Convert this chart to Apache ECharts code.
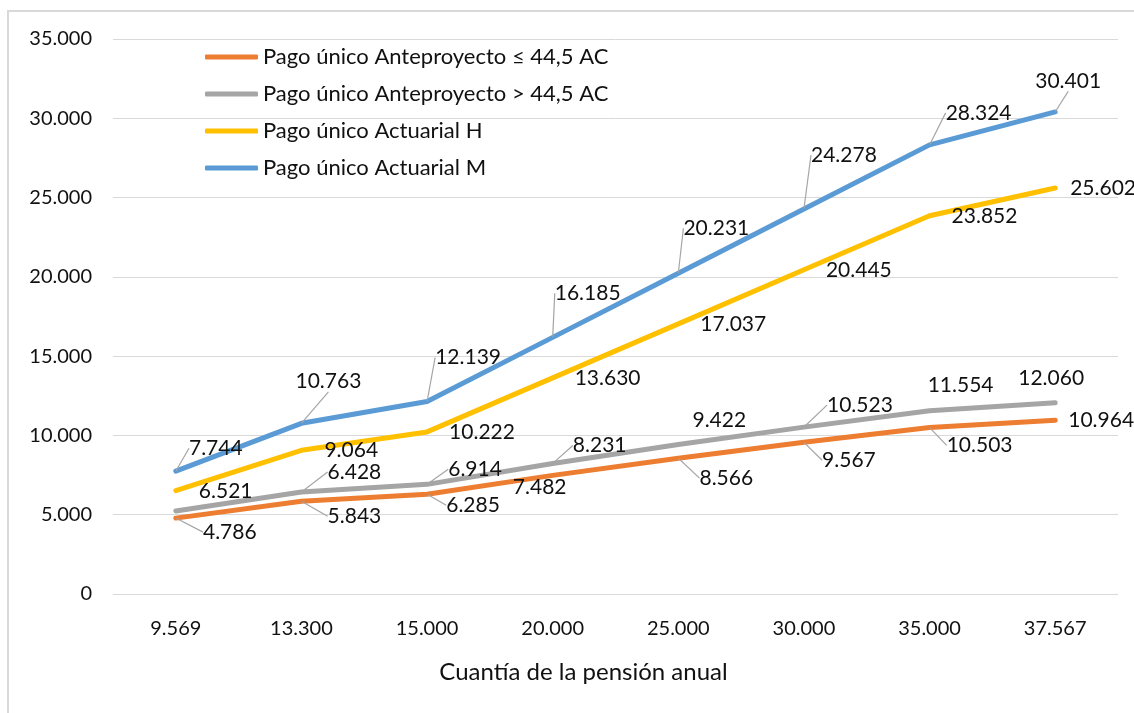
<!DOCTYPE html>
<html><head><meta charset="utf-8">
<script src="https://cdn.jsdelivr.net/npm/echarts@6/dist/echarts.min.js"></script>
<style>
html,body{margin:0;padding:0;background:#fff}
#wrap{position:relative;width:1134px;height:713px;overflow:hidden}
#c{width:1134px;height:713px}
#frame{position:absolute;left:7px;top:10px;width:1200px;height:800px;border-left:2px solid #D9D9D9;border-top:2px solid #D9D9D9;pointer-events:none}
</style>
</head><body><div id="wrap"><div id="c"></div><div id="frame"></div></div>
<script>
// ---- data ----
const categories = ['9.569','13.300','15.000','20.000','25.000','30.000','35.000','37.567'];
const seriesNames = ['Pago único Anteproyecto ≤ 44,5 AC','Pago único Anteproyecto > 44,5 AC','Pago único Actuarial H','Pago único Actuarial M'];
const anteMenor = [4786,5843,6285,7482,8566,9567,10503,10964];
const anteMayor = [5236,6428,6914,8231,9422,10523,11554,12060];
const actuarialH = [6521,9064,10222,13630,17037,20445,23852,25602];
const actuarialM = [7744,10763,12139,16185,20231,24278,28324,30401];
const yMax = 35000, yStep = 5000;

// ---- label placement (style only) ----
const colors = ['#ED7D31','#A5A5A5','#FFC000','#5B9BD5'];
// [dx, dy] of label centre from the point (yellow: dx is gap to label's left edge)
const offsets = [
  [[54,14],[53,15],[46,11],[-13,12],[48,20],[45,18],[50,18],[46,0]],
  [[0,0],[53,-20],[48,-15],[47,-18],[41,-24],[56,-22],[31,-26],[-4,-25]],
  [[23,1],[23,0],[22,0],[22,0],[22,0],[22,0],[22,0],[15,0]],
  [[40,-23],[27,-42],[41,-44],[35,-44],[38,-45],[40,-54],[49,-32],[13,-31]]
];
const leftAligned = [false, false, true, false];
const showLabel = [
  [1,1,1,1,1,1,1,1],[0,1,1,1,1,1,1,1],[1,1,1,1,1,1,1,1],[1,1,1,1,1,1,1,1]
];
// leader style: 0 none, 1 elbow (to label's left side), 2 diagonal (to label's bottom)
const leader = [
  [1,1,1,0,1,1,1,0],[0,1,1,1,0,1,0,0],[0,0,0,0,0,0,0,0],[2,2,2,2,2,2,1,2]
];

const fmt = v => String(v).replace(/\B(?=(\d{3})+(?!\d))/g, '.');
const FONT = 'Lato';
const TXT = '#111';
const values = [anteMenor, anteMayor, actuarialH, actuarialM];

const series = values.map((arr, s) => ({
  name: seriesNames[s],
  type: 'line',
  data: arr.map((v, i) => ({
    value: v,
    label: { show: !!showLabel[s][i] },
    labelLine: { show: leader[s][i] > 0 }
  })),
  symbol: 'circle',
  symbolSize: 1,
  showSymbol: true,
  itemStyle: { color: colors[s] },
  lineStyle: { color: colors[s], width: 5, cap: 'round', join: 'round' },
  label: {
    show: true,
    position: 'inside',
    formatter: p => fmt(p.value),
    fontFamily: FONT, fontSize: 21, color: TXT
  },
  labelLine: { show: false, lineStyle: { color: '#A5A5A5', width: 1.2 } },
  labelLayout: p => {
    const o = offsets[s][p.dataIndex];
    const cx = p.rect.x + p.rect.width / 2, cy = p.rect.y + p.rect.height / 2;
    const res = { x: cx + o[0], y: cy + o[1], align: leftAligned[s] ? 'left' : 'center', verticalAlign: 'middle' };
    const kind = leader[s][p.dataIndex];
    const w = p.labelRect.width, h = p.labelRect.height;
    const lx = cx + o[0] - w / 2, ly = cy + o[1];
    if (kind === 1) {
      res.labelLinePoints = [[cx, cy], [cx + (o[0] > 0 ? 4 : -4), ly], [lx - 7, ly]];
    } else if (kind === 2) {
      const by = ly + h / 2 - 2;
      res.labelLinePoints = [[cx, cy], [(cx + lx + w / 2) / 2 + 6, by], [(cx + lx + w / 2) / 2 + 6, by]];
    }
    return res;
  },
  emphasis: { disabled: true },
  animation: false,
  z: 2 + s
}));

const chart = echarts.init(document.getElementById('c'), null, { renderer: 'canvas' });
chart.setOption({
  animation: false,
  backgroundColor: '#fff',
  grid: { left: 113, right: 16, top: 39, bottom: 119, containLabel: false },
  legend: {
    data: seriesNames,
    orient: 'vertical', left: 200, top: 41,
    icon: 'roundRect', itemWidth: 53, itemHeight: 5, itemGap: 15, itemTextGap: 5,
    textStyle: { fontFamily: FONT, fontSize: 22, color: TXT, lineHeight: 22 }
  },
  xAxis: {
    type: 'category', data: categories, boundaryGap: true,
    axisLine: { show: false }, axisTick: { show: false },
    axisLabel: { fontFamily: FONT, fontSize: 20, color: TXT, margin: 25 },
    name: 'Cuantía de la pensión anual', nameLocation: 'middle', nameGap: 66,
    nameTextStyle: { fontFamily: FONT, fontSize: 24, color: TXT, padding: [0, 64, 0, 0] }
  },
  yAxis: {
    type: 'value', min: 0, max: yMax, interval: yStep,
    axisLine: { show: false }, axisTick: { show: false },
    axisLabel: { fontFamily: FONT, fontSize: 20, color: TXT, margin: 21, formatter: v => fmt(v) },
    splitLine: { lineStyle: { color: '#D9D9D9', width: 1 } }
  },
  series
});
</script></body></html>
